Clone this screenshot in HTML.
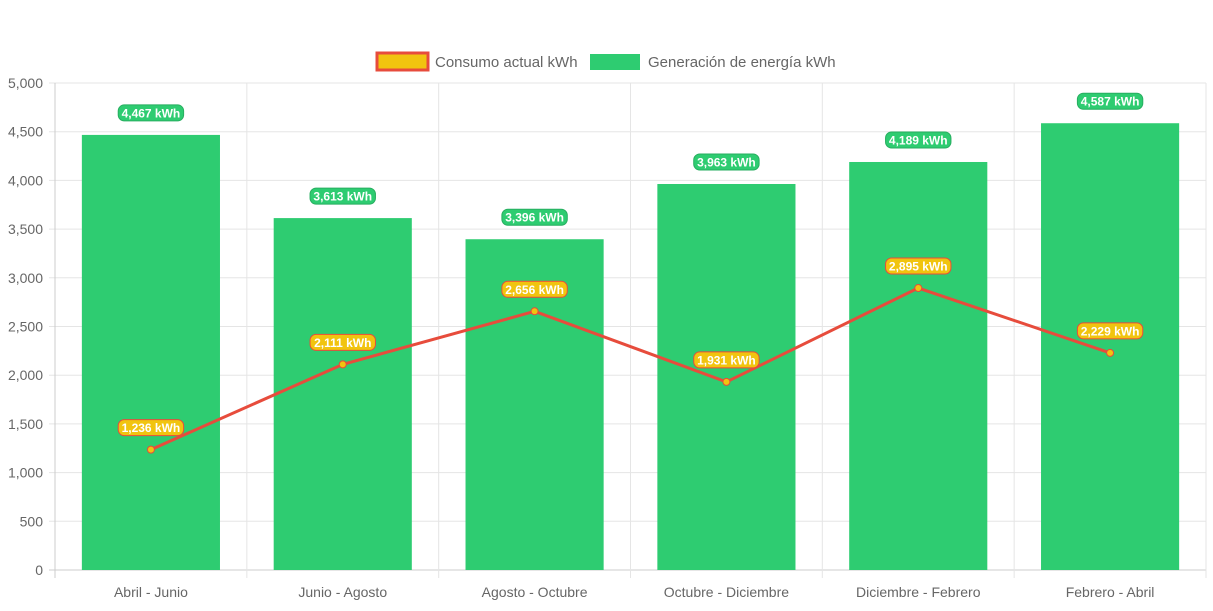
<!DOCTYPE html>
<html><head><meta charset="utf-8"><style>
body{margin:0;background:#fff;font-family:"Liberation Sans",sans-serif}
svg text{font-family:"Liberation Sans",sans-serif}
</style></head><body>
<svg id="c" width="1213" height="606">
<g>
<g>
<rect x="377" y="53" width="51" height="17" fill="#f1c40f" stroke="#e74c3c" stroke-width="3"/>
<text x="435" y="67" font-size="15" fill="#666">Consumo actual kWh</text></g>
<g>
<rect x="590" y="54" width="50" height="16" fill="#2ecc71"/>
<text x="648" y="67" font-size="15" fill="#666">Generación de energía kWh</text></g>
</g>
<g id="grid"></g><g id="bars"></g><g id="line"></g><g id="labels"></g>
</svg>
<script>
const categories=["Abril - Junio","Junio - Agosto","Agosto - Octubre","Octubre - Diciembre","Diciembre - Febrero","Febrero - Abril"];
const generacion=[4467,3613,3396,3963,4189,4587];
const consumo=[1236,2111,2656,1931,2895,2229];
const yTicks=[0,500,1000,1500,2000,2500,3000,3500,4000,4500,5000];
const NS="http://www.w3.org/2000/svg";
const L=55,R=1206,T=83,B=570,yMax=5000;
const cw=(R-L)/categories.length;
const x=i=>L+cw*(i+0.5);
const y=v=>B-(v/yMax)*(B-T);
function mk(p,t,a){const e=document.createElementNS(NS,t);for(const k in a)e.setAttribute(k,a[k]);p.appendChild(e);return e;}
const fmt=v=>v.toLocaleString('en-US');
const g=document.getElementById('grid');
yTicks.forEach(v=>{
 mk(g,'line',{x1:L-6,x2:R,y1:y(v),y2:y(v),stroke:v===0?'#ccc':'#e5e5e5'});
 const t=mk(g,'text',{x:L-12,y:y(v)+5,'text-anchor':'end','font-size':14,fill:'#666'});t.textContent=fmt(v);
 
 
});
for(let i=0;i<=categories.length;i++){mk(g,'line',{x1:L+cw*i,x2:L+cw*i,y1:T,y2:B+8,stroke:i===0?'#ccc':'#e5e5e5'});}
categories.forEach((c,i)=>{const t=mk(g,'text',{x:x(i),y:597,'text-anchor':'middle','font-size':14,fill:'#666'});t.textContent=c;
 
 });
const bw=cw*0.72;
const bg=document.getElementById('bars');
generacion.forEach((v,i)=>{const r=mk(bg,'rect',{x:x(i)-bw/2,y:y(v),width:bw,height:B-y(v),fill:'#2ecc71'});
 
 });
const lg=document.getElementById('line');
const pl=mk(lg,'polyline',{points:consumo.map((v,i)=>x(i)+','+y(v)).join(' '),fill:'none',stroke:'#e74c3c','stroke-width':3});


consumo.forEach((v,i)=>{const c=mk(lg,'circle',{cx:x(i),cy:y(v),r:3.5,fill:'#f1c40f',stroke:'#e74c3c','stroke-width':1});
 
 });
const lb=document.getElementById('labels');
function label(cx,cy,txt,fill,stroke,name){
 const w=txt.length*6.6+6;
 const gr=mk(lb,'g',{});
 
 
 mk(gr,'rect',{x:cx-w/2,y:cy-8,width:w,height:16,rx:6,fill:fill,stroke:stroke,'stroke-width':1});
 const t=mk(gr,'text',{x:cx,y:cy+4.5,'text-anchor':'middle','font-size':12,'font-weight':'bold',fill:'#fff'});t.textContent=txt;
}
generacion.forEach((v,i)=>label(x(i),y(v)-22,fmt(v)+' kWh','#2ecc71','#27ae60','bar-value-label'));
consumo.forEach((v,i)=>label(x(i),y(v)-22,fmt(v)+' kWh','#f1c40f','#e74c3c','point-value-label'));
</script>
</body></html>
